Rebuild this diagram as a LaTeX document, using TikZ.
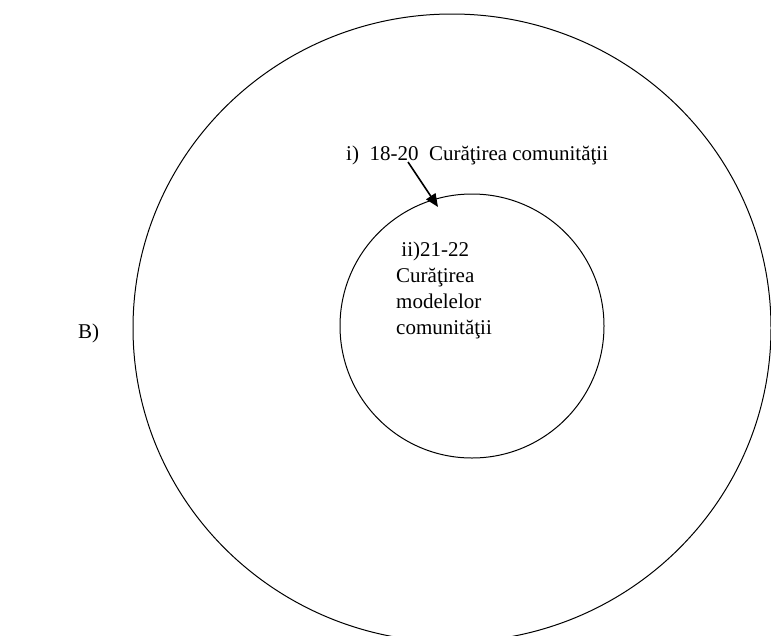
\documentclass[tikz,border=0pt]{standalone}
\usepackage{fontspec}
\setmainfont{Liberation Serif}
\usetikzlibrary{shapes.geometric,arrows.meta}
\begin{document}
\begin{tikzpicture}[
  x=1pt, y=-1pt,
  ring/.style={draw, line width=1pt, inner sep=0pt},
  txt/.style={font=\fontsize{21}{26}\selectfont, inner sep=0pt},
  pointer/.style={-{Triangle[length=13pt,width=11pt]}, line width=1.6pt}
]
\useasboundingbox (0,0) rectangle (771,635);
\clip (0,0) rectangle (771,635);

% Rings
\node[ring, ellipse, minimum width=638pt, minimum height=628pt] (outer) at (452,328) {};
\node[ring, circle, minimum size=264pt] (inner) at (472,326) {};

% Labels
\node[txt, anchor=base west] (stage1) at (346,160) {i)\ \ 18-20\ \ Curăţirea comunităţii};
\node[txt, anchor=base west, align=left] (stage2) at (396,334)
  {\ ii)21-22\\Curăţirea\\modelelor\\comunităţii};
\node[txt, anchor=base west] (partB) at (78,338) {B)};

% Arrow
\coordinate (tail) at (408,162);
\coordinate (tip) at (438,207);
\draw[pointer] (tail) -- (tip);

\end{tikzpicture}
\end{document}
